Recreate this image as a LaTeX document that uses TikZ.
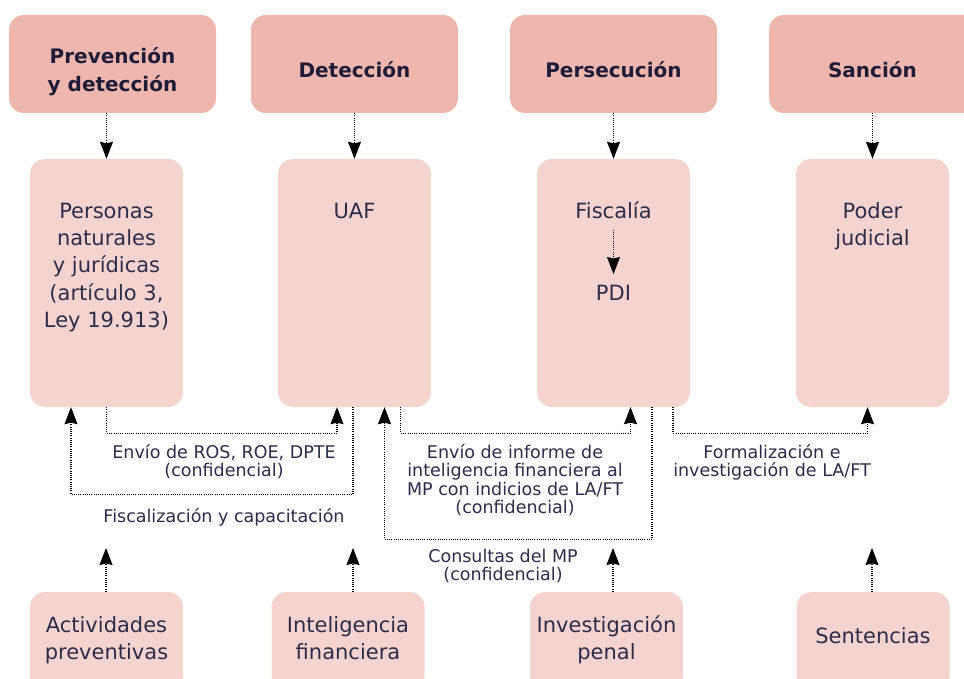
\documentclass[tikz,border=0pt]{standalone}
\usepackage{fontspec}
\setmainfont{DejaVu Sans}
\usetikzlibrary{arrows.meta,calc}
\definecolor{topfill}{RGB}{239,182,173}
\definecolor{midfill}{RGB}{245,212,207}
\definecolor{txt}{RGB}{45,44,74}
\definecolor{ttl}{RGB}{30,28,56}
\begin{document}
\begin{tikzpicture}[x=1pt,y=-1pt,
  topbox/.style={fill=topfill, rounded corners=15pt, minimum width=207pt, minimum height=98pt, inner sep=0pt},
  midbox/.style={fill=midfill, rounded corners=15pt, minimum width=153pt, minimum height=248pt, inner sep=0pt},
  botbox/.style={fill=midfill, rounded corners=15pt, minimum width=153pt, minimum height=100pt, inner sep=0pt},
  ttltext/.style={font=\bfseries\fontsize{20}{28}\selectfont, text=ttl, align=center, inner sep=0pt, anchor=north},
  boxtext/.style={font=\fontsize{21}{27.3}\selectfont, text=txt, align=center, inner sep=0pt, anchor=north},
  lbl/.style={font=\fontsize{17.5}{18.5}\selectfont, text=txt, align=center, inner sep=0pt, anchor=north},
  conn/.style={draw=black, line width=1.1pt, dash pattern=on 1pt off 1.2pt, -{Stealth[length=17pt,width=13pt,inset=1.5pt]}}]
\useasboundingbox (0,0) rectangle (964,679);
\clip (0,0) rectangle (964,679);
% top boxes
\node[topbox] (A) at (112.5,64) {};
\node[topbox] (B) at (354.5,64) {};
\node[topbox] (C) at (613.5,64) {};
\node[topbox, minimum width=240pt] (D) at (889,64) {};
\node[ttltext] (tA) at (112.5,46) {\rule{0pt}{17pt}Prevención\\y detección};
\node[ttltext] (tB) at (354.5,60) {\rule{0pt}{17pt}Detección};
\node[ttltext] (tC) at (613.5,60) {\rule{0pt}{17pt}Persecución};
\node[ttltext] (tD) at (872.5,60) {\rule{0pt}{17pt}Sanción};
% middle boxes
\node[midbox] (m1) at (106.5,283) {};
\node[midbox] (m2) at (354.5,283) {};
\node[midbox] (m3) at (613.5,283) {};
\node[midbox] (m4) at (872.5,283) {};
\node[boxtext] (t1) at (106.5,201) {\rule{0pt}{17pt}Personas\\naturales\\y jurídicas\\(artículo 3,\\Ley 19.913)};
\node[boxtext] (t2) at (354.5,201) {\rule{0pt}{17pt}UAF};
\node[boxtext] (tF) at (613.5,201) {\rule{0pt}{17pt}Fiscalía};
\node[boxtext] (tP) at (613.5,283) {\rule{0pt}{17pt}PDI};
\node[boxtext] (t4) at (872.5,201) {\rule{0pt}{17pt}Poder\\judicial};
% bottom boxes
\node[botbox] (b1) at (106.5,642) {};
\node[botbox] (b2) at (348,642) {};
\node[botbox] (b3) at (606.5,642) {};
\node[botbox] (b4) at (873,642) {};
\node[boxtext] (tb1) at (106.5,615) {\rule{0pt}{17pt}Actividades\\preventivas};
\node[boxtext] (tb2) at (348,615) {\rule{0pt}{17pt}Inteligencia\\financiera};
\node[boxtext] (tb3) at (606.5,615) {\rule{0pt}{17pt}Investigación\\penal};
\node[boxtext] (tb4) at (873,626) {\rule{0pt}{17pt}Sentencias};
% labels
\node[lbl] (l1) at (224,444) {\rule{0pt}{14pt}Envío de ROS, ROE, DPTE\\(confidencial)};
\node[lbl] (l2) at (224,508) {\rule{0pt}{14pt}Fiscalización y capacitación};
\node[lbl] (l3) at (515,444) {\rule{0pt}{14pt}Envío de informe de\\inteligencia financiera al\\MP con indicios de LA/FT\\(confidencial)};
\node[lbl] (l4) at (503,548) {\rule{0pt}{14pt}Consultas del MP\\(confidencial)};
\node[lbl] (l5) at (772,444) {\rule{0pt}{14pt}Formalización e\\investigación de LA/FT};
% top arrows
\draw[conn] (A.south -| m1.north) -- (m1.north);
\draw[conn] (B.south -| m2.north) -- (m2.north);
\draw[conn] (C.south -| m3.north) -- (m3.north);
\draw[conn] (D.south -| m4.north) -- (m4.north);
% Fiscalia -> PDI
\draw[conn] ([yshift=-11pt]tF.south) -- ([yshift=9pt]tP.north);
% middle connectors
\draw[conn] (m1.south) -- ++(0,26) -| ([xshift=-17.5pt]m2.south);
\draw[conn] ([xshift=-1.5pt]m2.south) -- ++(0,87) -| ([xshift=-35.5pt]m1.south);
\draw[conn] ([xshift=46pt]m2.south) -- ++(0,26) -| ([xshift=17pt]m3.south);
\draw[conn] ([xshift=38.5pt]m3.south) -- ++(0,132) -| ([xshift=30pt]m2.south);
\draw[conn] ([xshift=59.5pt]m3.south) -- ++(0,26) -| ([xshift=-5pt]m4.south);
% bottom arrows
\coordinate (e1) at (106,548);
\coordinate (e2) at (353,548);
\coordinate (e3) at (613,548);
\coordinate (e4) at (872,548);
\draw[conn] (b1.north -| e1) -- (e1);
\draw[conn] (b2.north -| e2) -- (e2);
\draw[conn] (b3.north -| e3) -- (e3);
\draw[conn] (b4.north -| e4) -- (e4);
\end{tikzpicture}
\end{document}
